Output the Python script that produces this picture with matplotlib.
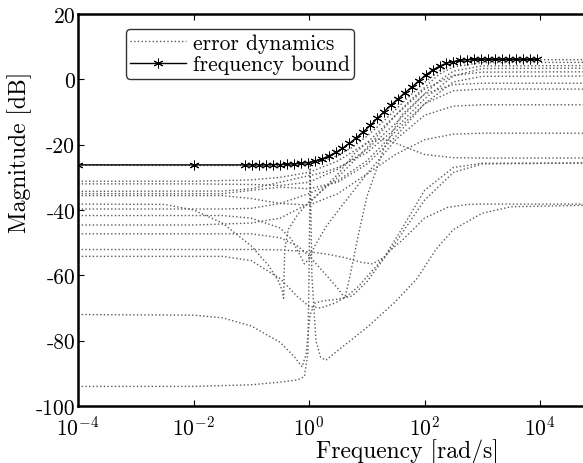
import numpy as np
import matplotlib
matplotlib.use("Agg")
import matplotlib.pyplot as plt
from matplotlib.ticker import NullLocator

plt.rcParams["font.family"] = "serif"
plt.rcParams["font.serif"] = ["cmr10", "DejaVu Serif"]
plt.rcParams["mathtext.fontset"] = "cm"
plt.rcParams["axes.unicode_minus"] = False
plt.rcParams["axes.formatter.use_mathtext"] = True

# frequency bound (log10 of rad/s, dB) read at the star markers
bound_logw = [-4, -2, -1.1, -0.98, -0.86, -0.74, -0.62, -0.50, -0.38, -0.26, -0.14,
              -0.02, 0.10, 0.22, 0.34, 0.46, 0.58, 0.70, 0.82, 0.94, 1.06, 1.18,
              1.30, 1.42, 1.54, 1.66, 1.78, 1.90, 2.02, 2.14, 2.26, 2.38, 2.50,
              2.62, 2.74, 2.86, 2.98, 3.10, 3.22, 3.34, 3.46, 3.58, 3.70, 3.82, 3.94]
bound_db = [-26.2, -26.2, -26.2, -26.2, -26.2, -26.2, -26.1, -26.1, -26.0, -25.9, -25.7,
            -25.5, -25.0, -24.4, -23.5, -22.4, -21.1, -19.6, -17.9, -16.1, -14.1, -12.0,
            -9.9, -7.9, -6.0, -4.1, -2.4, -0.5, 1.3, 2.8, 4.0, 4.9, 5.4,
            5.8, 6.0, 6.1, 6.1, 6.1, 6.1, 6.1, 6.1, 6.1, 6.1, 6.1, 6.1]

# error dynamics curves, each as (log10 w, dB)
ed_1 = ([-4, -1, -0.5, 0, 0.25, 0.5, 0.75, 1, 1.25, 1.5, 1.75, 2, 2.25, 2.5, 2.75, 3, 5],
        [-26.3, -26.4, -26.3, -26.0, -25.0, -23.3, -20.8, -17.5, -13.5, -9.3, -5.0, -1.0, 2.5, 4.8, 5.8, 6.0, 6.0])
ed_2 = ([-4, -2, -1, -0.5, 0, 0.5, 1, 1.5, 1.75, 2, 2.25, 2.5, 3, 5],
        [-31.2, -31.2, -30.8, -30, -28.5, -25, -19.5, -11, -6.5, -2.5, 1.5, 3.8, 5.1, 5.2])
ed_3 = ([-4, -2, -1, -0.5, 0, 0.5, 1, 1.5, 2, 2.25, 2.5, 3, 5],
        [-32, -32, -32.2, -32.5, -31.5, -27.5, -21.5, -13.5, -4.5, -0.5, 2.5, 4.1, 4.2])
ed_4 = ([-4, -1.5, -1, -0.5, 0, 0.25, 0.5, 1, 1.5, 2, 2.5, 3, 5],
        [-34.3, -34.2, -33.5, -31.5, -29.5, -28.5, -27, -22.5, -15, -6, 1, 3.3, 3.4])
ed_5 = ([-4, -1.5, -1, -0.5, 0, 0.5, 1, 1.5, 2, 2.5, 3, 5],
        [-35, -35, -34, -33, -33.5, -31.5, -26, -17.5, -7.5, -0.8, 0.9, 1])
ed_6 = ([-4, -1.5, -1, -0.5, 0, 0.5, 1, 1.5, 2, 2.5, 3, 5],
        [-35.6, -35.6, -36.5, -38, -38.5, -35, -29, -23, -18.5, -16.8, -16.5, -16.5])
ed_7 = ([-4, -2.5, -2, -1.5, -1, -0.7, -0.52, -0.46, -0.44, -0.42, -0.36, -0.2, 0, 0.5, 1, 1.5, 2, 2.5, 3, 5],
        [-38.2, -38.3, -40, -44, -51, -57, -62, -65, -67, -52, -46, -41.5, -37.5, -30, -21, -11, -3, 1.2, 2.2, 2.3])
ed_8 = ([-4, -1.5, -1, -0.5, 0, 0.5, 1, 1.5, 2, 2.5, 3, 5],
        [-39.7, -39.7, -39.5, -38, -35, -31, -25, -16, -7.5, -3.5, -3, -3])
ed_9 = ([-4, -1.5, -1, -0.5, -0.3, -0.15, -0.08, 0, 0.1, 0.3, 0.6, 1, 1.5, 2, 2.5, 3, 5],
        [-41.7, -41.7, -42.5, -45.5, -49, -54, -56.5, -55, -51, -45, -38, -29, -18.5, -11, -8.2, -7.8, -7.8])
ed_10 = ([-4, -2, -1, -0.5, 0, 0.5, 0.8, 1.0, 1.2, 1.4, 1.7, 2, 2.5, 3, 5],
         [-44.6, -44.6, -44, -42.5, -38, -29, -22.5, -19.5, -18.3, -18.8, -21, -23, -24, -24.1, -24.1])
ed_11 = ([-4, -1, -0.5, -0.2, 0, 0.3, 0.5, 0.62, 0.7, 0.85, 1.0, 1.3, 1.6, 2, 2.5, 3, 5],
         [-47.3, -47.3, -48.5, -51, -54, -60, -64, -67, -61, -48, -36, -21, -11, -4.5, -1.6, -1.2, -1.2])
ed_12 = ([-4, -1, -0.5, 0, 0.3, 0.6, 0.9, 1.1, 1.3, 1.6, 2, 2.5, 3, 5],
         [-52.1, -52.1, -52.2, -52.8, -53.5, -54.5, -56, -56.5, -54.5, -46, -34, -27, -25.7, -25.6])
ed_13 = ([-4, -1.5, -1, -0.5, -0.2, 0, 0.2, 0.45, 0.65, 0.85, 1.1, 1.4, 1.63, 2, 2.4, 2.75, 3, 5],
         [-54.2, -54.2, -55.5, -61, -66.5, -69.5, -70, -68.5, -66.5, -63.5, -58.5, -52.5, -49, -42.5, -39.2, -38.3, -38.2, -38.2])
ed_14 = ([-4, -2, -1.5, -1, -0.5, -0.25, -0.12, -0.05, 0.02, 0.1, 0.25, 0.5, 0.75, 1, 1.5, 2, 2.5, 3, 5],
         [-72, -72.2, -73, -75.5, -80.5, -85, -88, -84, -72, -68.5, -67.8, -67.3, -66.3, -62, -50, -37, -28.5, -25.9, -25.6])
ed_15 = ([-4, -2, -1, -0.5, -0.2, -0.08, -0.02, 0.0, 0.02, 0.05, 0.12, 0.2, 0.29, 0.5, 1, 1.5, 1.87, 2.2, 2.5, 3, 3.5, 5],
         [-94, -94, -93.5, -92.7, -92, -91, -84, -60, -26.5, -60, -80, -85, -86, -83, -76, -68, -61, -52, -46, -41, -39, -38.5])

error_curves = [ed_1, ed_2, ed_3, ed_4, ed_5, ed_6, ed_7, ed_8, ed_9, ed_10,
                ed_11, ed_12, ed_13, ed_14, ed_15]

y_ticks = [-100, -80, -60, -40, -20, 0, 20]
y_labels = ["-100", "-80", "-60", "-40", "-20", "0", "20"]

fig = plt.figure(figsize=(5.83, 4.64), dpi=100)
ax = fig.add_axes([0.1338, 0.1228, 0.8915, 0.845])

for i, (lw, db) in enumerate(error_curves):
    ax.semilogx(10.0 ** np.array(lw), db, linestyle=":", color="0.35", linewidth=1.0,
                label="error dynamics" if i == 0 else None)

ax.semilogx(10.0 ** np.array(bound_logw), bound_db, color="black", linewidth=1.0,
            marker=(6, 2, 0), markersize=7, markeredgewidth=0.7,
            label="frequency bound")

ax.set_xlim(1e-4, 1e5)
ax.set_ylim(-100, 20)
ax.set_xticks([1e-4, 1e-2, 1e0, 1e2, 1e4])
ax.xaxis.set_minor_locator(NullLocator())
ax.set_yticks(y_ticks)
ax.set_yticklabels(y_labels)
ax.tick_params(direction="in", length=4, width=0.8, labelsize=15.5, top=True)
ax.tick_params(axis="x", pad=6)
ax.tick_params(axis="y", pad=2)
for s in ax.spines.values():
    s.set_linewidth(1.8)

ax.set_xlabel("Frequency [rad/s]", fontsize=17)
ax.xaxis.set_label_coords(0.633, -0.082)
ax.set_ylabel("Magnitude [dB]", fontsize=17)
ax.yaxis.set_label_coords(-0.088, 0.65)

leg = ax.legend(loc="upper left", bbox_to_anchor=(0.092, 0.962), borderaxespad=0,
                fontsize=15.5, frameon=True, fancybox=True, edgecolor="black",
                handlelength=2.6, handletextpad=0.3, borderpad=0.2, labelspacing=0.1)
leg.get_frame().set_linewidth(1.0)

fig.savefig("out.png", dpi=100)
